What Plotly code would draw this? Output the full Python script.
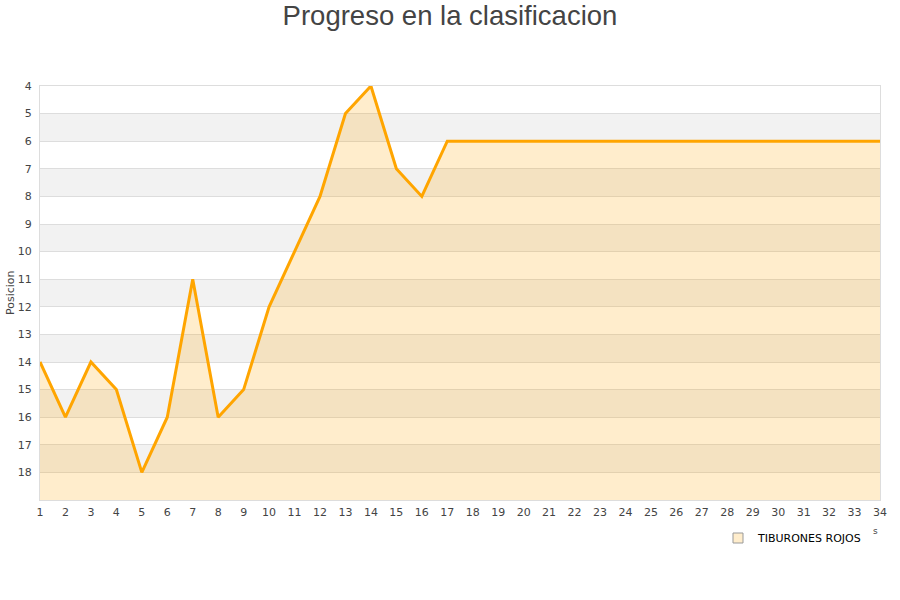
import plotly.graph_objects as go

jornadas = list(range(1, 35))
posiciones = [14, 16, 14, 15, 18, 16, 11, 16, 15, 12, 10, 8, 5, 4, 7, 8, 6,
              6, 6, 6, 6, 6, 6, 6, 6, 6, 6, 6, 6, 6, 6, 6, 6, 6]
equipo = "TIBURONES ROJOS"
y_ticks = list(range(4, 19))
y_bottom = 19
y_top = 4
band_starts = [5, 7, 9, 11, 13, 15, 17]

fig = go.Figure()

fig.add_trace(go.Scatter(
    x=jornadas, y=[y_bottom] * len(jornadas), mode="lines",
    line=dict(width=0, color="rgba(0,0,0,0)"), showlegend=False, hoverinfo="skip"))

fig.add_trace(go.Scatter(
    x=jornadas, y=posiciones, mode="lines", name=equipo,
    line=dict(color="#FFA500", width=3),
    fill="tonexty", fillcolor="rgba(255,165,0,0.2)",
    showlegend=False))

fig.add_trace(go.Scatter(
    x=[None], y=[None], mode="markers", name=equipo,
    marker=dict(symbol="square", size=10, color="#FFEDCC",
                line=dict(color="#999999", width=1)),
    showlegend=True))

shapes = []
for b in band_starts:
    shapes.append(dict(type="rect", xref="paper", yref="y", x0=0, x1=1,
                       y0=b, y1=b + 1, fillcolor="#F2F2F2", line=dict(width=0),
                       layer="below"))

fig.update_layout(
    width=900, height=600,
    paper_bgcolor="white", plot_bgcolor="white",
    margin=dict(l=40, r=20, t=86, b=100),
    title=dict(text="Progreso en la clasificacion", x=0.5, xanchor="center",
               y=0.99, yanchor="top",
               font=dict(family="Liberation Sans, Arial", size=27.5, color="#444444")),
    shapes=shapes,
    xaxis=dict(range=[1, 34], tickvals=jornadas, showgrid=False, zeroline=False,
               showline=True, linecolor="#DDDDDD", linewidth=1, mirror=True,
               ticks="", ticklabelstandoff=2, automargin=False,
               tickfont=dict(family="DejaVu Sans", size=11, color="#444444")),
    yaxis=dict(range=[y_bottom, y_top], tickvals=y_ticks, showgrid=True,
               gridcolor="#DDDDDD", gridwidth=1, zeroline=False,
               showline=True, linecolor="#DDDDDD", linewidth=1, mirror=True,
               ticks="", ticklabelstandoff=5, automargin=False,
               tickfont=dict(family="DejaVu Sans", size=11, color="#444444")),
    legend=dict(x=(867 - 40) / 840, xanchor="right", y=(500 - 538) / 414,
                yanchor="middle",
                font=dict(family="DejaVu Sans", size=11, color="#000000"),
                bgcolor="rgba(0,0,0,0)", itemwidth=30),
)
fig.add_annotation(text="Posicion", xref="paper", yref="paper",
                   x=(10 - 40) / 840, y=(500 - 293) / 414, textangle=-90,
                   showarrow=False, xanchor="center", yanchor="middle",
                   font=dict(family="DejaVu Sans", size=11, color="#444444"))
fig.add_annotation(text="s", xref="paper", yref="paper", x=(875 - 40) / 840,
                   y=(500 - 531) / 414, showarrow=False,
                   xanchor="center", yanchor="middle",
                   font=dict(family="DejaVu Sans", size=9, color="#444444"))

fig.write_html("out.html", config={"displayModeBar": False},
               post_script="document.body.style.margin='0px';")
